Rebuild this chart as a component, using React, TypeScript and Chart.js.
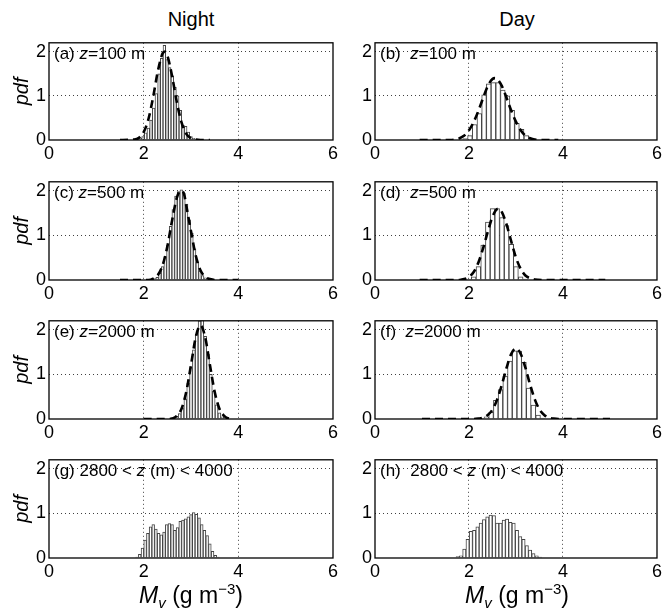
import React, { useEffect, useRef } from 'react';
import { Chart, registerables } from 'chart.js';

Chart.register(...registerables);

const FONT = '"Liberation Sans", Arial, Helvetica, sans-serif';
Chart.defaults.font.family = FONT;
Chart.defaults.color = '#000';

// ---- axis ranges / ticks ----
const X_MIN = 0;
const X_MAX = 6;
const X_STEP = 2;
const Y_MIN = 0;
const Y_MAX = 2.2;
const Y_STEP = 1;

// ---- column titles / axis labels ----
const colTitles = ['Night', 'Day'];
const yTitle = 'pdf';

// ---- histograms: centre of first bin, bin width, pdf heights ----
const startA = 1.873, widthA = 0.0564;
const pdfA = [0.02, 0.04, 0.08, 0.16, 0.27, 0.45, 0.72, 1.05, 1.5, 1.85, 2.14, 1.82, 1.64, 1.45, 1.19, 1.0, 0.67, 0.33, 0.31, 0.18, 0.08, 0.04, 0.02];

const startB = 1.92, widthB = 0.1;
const pdfB = [0.03, 0.1, 0.35, 0.6, 1.02, 1.27, 1.3, 1.3, 1.13, 1.0, 0.67, 0.38, 0.24, 0.1, 0.04];

const startC = 2.23, widthC = 0.0564;
const pdfC = [0.03, 0.06, 0.15, 0.3, 0.52, 0.78, 1.2, 1.58, 1.88, 1.98, 2.02, 1.95, 1.7, 1.35, 1.05, 0.7, 0.4, 0.2, 0.1, 0.05];

const startD = 2.0, widthD = 0.1;
const pdfD = [0.02, 0.07, 0.3, 0.78, 1.3, 1.6, 1.6, 1.4, 1.22, 0.8, 0.3, 0.07, 0.02];

const startE = 2.58, widthE = 0.06;
const pdfE = [0.02, 0.03, 0.06, 0.12, 0.25, 0.45, 0.8, 1.15, 1.55, 1.9, 2.2, 2.25, 1.85, 1.45, 1.0, 0.62, 0.32, 0.14, 0.05, 0.02];

const startF = 2.27, widthF = 0.1;
const pdfF = [0.01, 0.05, 0.15, 0.42, 0.66, 0.96, 1.3, 1.53, 1.52, 1.27, 0.69, 0.31, 0.09, 0.02];

const startG = 1.86, widthG = 0.057;
const pdfG = [0.02, 0.08, 0.22, 0.4, 0.55, 0.7, 0.75, 0.65, 0.55, 0.52, 0.58, 0.75, 0.77, 0.75, 0.62, 0.68, 0.82, 0.85, 0.88, 0.92, 0.97, 1.02, 0.98, 0.9, 0.75, 0.62, 0.5, 0.32, 0.15, 0.06, 0.02];

const startH = 1.76, widthH = 0.07;
const pdfH = [0.03, 0.05, 0.2, 0.42, 0.6, 0.62, 0.7, 0.78, 0.86, 0.92, 0.96, 0.95, 0.78, 0.78, 0.85, 0.87, 0.8, 0.78, 0.62, 0.48, 0.42, 0.28, 0.18, 0.1, 0.05, 0.02];

// ---- fitted curves (x, pdf) ----
const fitA = [[1.5, 0], [1.8, 0.01], [1.9, 0.05], [2.0, 0.18], [2.1, 0.47], [2.2, 0.97], [2.3, 1.56], [2.4, 1.96], [2.45, 2.0], [2.5, 1.91], [2.6, 1.45], [2.7, 0.86], [2.8, 0.4], [2.9, 0.14], [3.0, 0.04], [3.1, 0.01], [3.2, 0], [3.4, 0]];
const fitB = [[0.95, 0], [1.6, 0], [1.8, 0.04], [1.9, 0.1], [2.0, 0.22], [2.1, 0.41], [2.2, 0.66], [2.3, 0.95], [2.4, 1.22], [2.5, 1.38], [2.55, 1.4], [2.6, 1.38], [2.7, 1.22], [2.8, 0.95], [2.9, 0.66], [3.0, 0.41], [3.1, 0.22], [3.2, 0.1], [3.3, 0.04], [3.4, 0.01], [3.6, 0], [3.9, 0]];
const fitC = [[1.5, 0], [2.1, 0], [2.2, 0.03], [2.3, 0.11], [2.4, 0.33], [2.5, 0.75], [2.6, 1.33], [2.7, 1.84], [2.78, 2.0], [2.85, 1.94], [2.9, 1.67], [3.0, 1.09], [3.1, 0.55], [3.2, 0.22], [3.3, 0.07], [3.4, 0.02], [3.5, 0], [4.0, 0]];
const fitD = [[0.95, 0], [1.8, 0], [1.9, 0.02], [2.0, 0.07], [2.1, 0.18], [2.2, 0.39], [2.3, 0.71], [2.4, 1.08], [2.5, 1.42], [2.62, 1.6], [2.7, 1.52], [2.8, 1.24], [2.9, 0.86], [3.0, 0.5], [3.1, 0.25], [3.2, 0.1], [3.3, 0.04], [3.4, 0.01], [3.6, 0], [4.9, 0]];
const fitE = [[2.0, 0], [2.55, 0], [2.6, 0.01], [2.7, 0.07], [2.8, 0.23], [2.9, 0.61], [3.0, 1.21], [3.1, 1.83], [3.2, 2.1], [3.3, 1.83], [3.4, 1.21], [3.5, 0.61], [3.6, 0.23], [3.7, 0.07], [3.8, 0.01], [3.9, 0]];
const fitF = [[1.0, 0], [2.1, 0], [2.2, 0.01], [2.3, 0.03], [2.4, 0.09], [2.5, 0.21], [2.6, 0.44], [2.7, 0.77], [2.8, 1.15], [2.9, 1.46], [3.0, 1.58], [3.1, 1.46], [3.2, 1.15], [3.3, 0.77], [3.4, 0.44], [3.5, 0.21], [3.6, 0.09], [3.7, 0.03], [3.8, 0.01], [3.9, 0], [5.0, 0]];

// ---- panel labels (text, italic?) ----
type Part = { t: string; i?: boolean };
const labelA: Part[] = [{ t: '(a) ' }, { t: 'z', i: true }, { t: '=100 m' }];
const labelB: Part[] = [{ t: '(b)  ' }, { t: 'z', i: true }, { t: '=100 m' }];
const labelC: Part[] = [{ t: '(c) ' }, { t: 'z', i: true }, { t: '=500 m' }];
const labelD: Part[] = [{ t: '(d)  ' }, { t: 'z', i: true }, { t: '=500 m' }];
const labelE: Part[] = [{ t: '(e) ' }, { t: 'z', i: true }, { t: '=2000 m' }];
const labelF: Part[] = [{ t: '(f)  ' }, { t: 'z', i: true }, { t: '=2000 m' }];
const labelG: Part[] = [{ t: '(g) 2800 < ' }, { t: 'z', i: true }, { t: ' (m) < 4000' }];
const labelH: Part[] = [{ t: '(h)  2800 < ' }, { t: 'z', i: true }, { t: ' (m) < 4000' }];

// ---- layout (page pixels) ----
const COL_L = [49, 375];
const COL_R = [333, 660];
const ROW_T = [41, 180, 319, 458];
const ROW_B = [140, 280, 419, 558];
const Y_AXIS_W = 49;
const X_AXIS_H = 28;
const PAD_TOP = 12;

interface Spec {
  id: string; col: number; row: number;
  start: number; width: number; pdf: number[];
  fit?: number[][]; label: Part[];
}

const PANELS: Spec[] = [
  { id: 'a', col: 0, row: 0, start: startA, width: widthA, pdf: pdfA, fit: fitA, label: labelA },
  { id: 'b', col: 1, row: 0, start: startB, width: widthB, pdf: pdfB, fit: fitB, label: labelB },
  { id: 'c', col: 0, row: 1, start: startC, width: widthC, pdf: pdfC, fit: fitC, label: labelC },
  { id: 'd', col: 1, row: 1, start: startD, width: widthD, pdf: pdfD, fit: fitD, label: labelD },
  { id: 'e', col: 0, row: 2, start: startE, width: widthE, pdf: pdfE, fit: fitE, label: labelE },
  { id: 'f', col: 1, row: 2, start: startF, width: widthF, pdf: pdfF, fit: fitF, label: labelF },
  { id: 'g', col: 0, row: 3, start: startG, width: widthG, pdf: pdfG, label: labelG },
  { id: 'h', col: 1, row: 3, start: startH, width: widthH, pdf: pdfH, label: labelH },
];

function decorPlugin(parts: Part[]) {
  return {
    id: 'decor',
    afterDraw(chart: any) {
      const { ctx, chartArea: ca } = chart;
      ctx.save();
      ctx.strokeStyle = '#000';
      ctx.lineWidth = 1.3;
      ctx.setLineDash([]);
      ctx.strokeRect(ca.left, ca.top, ca.right - ca.left, ca.bottom - ca.top);
      let x = ca.left + 5;
      const y = ca.top + 16;
      ctx.fillStyle = '#000';
      ctx.textBaseline = 'alphabetic';
      ctx.textAlign = 'left';
      for (const p of parts) {
        ctx.font = `${p.i ? 'italic ' : ''}17px ${FONT}`;
        ctx.fillText(p.t, x, y);
        x += ctx.measureText(p.t).width;
      }
      ctx.restore();
    },
  };
}

function Panel({ spec }: { spec: Spec }) {
  const ref = useRef<HTMLCanvasElement>(null);
  const L = COL_L[spec.col], R = COL_R[spec.col];
  const T = ROW_T[spec.row], B = ROW_B[spec.row];
  const padRight = spec.col === 0 ? 12 : 665 - R;
  const left = L - Y_AXIS_W;
  const top = T - PAD_TOP;
  const w = R - L + Y_AXIS_W + padRight;
  const h = B - T + PAD_TOP + X_AXIS_H;

  useEffect(() => {
    const bars = spec.pdf.map((v, i) => ({ x: spec.start + i * spec.width, y: v }));
    const datasets: any[] = [];
    if (spec.fit) {
      datasets.push({
        type: 'line',
        data: spec.fit.map(([x, y]) => ({ x, y })),
        borderColor: '#000',
        borderWidth: 2.6,
        borderDash: [8, 5],
        pointRadius: 0,
        fill: false,
        cubicInterpolationMode: 'monotone',
        order: 0,
      });
    }
    datasets.push({
      type: 'bar',
      data: bars,
      backgroundColor: '#ffffff',
      borderColor: '#444444',
      borderWidth: 1,
      borderSkipped: 'bottom',
      barPercentage: 1,
      categoryPercentage: 1,
      order: 1,
    });
    const gridColor = (c: any) => {
      const v = c.tick ? c.tick.value : null;
      if (v === null) return 'rgba(0,0,0,0)';
      if (c.scale.axis === 'x' && (v === X_MIN || v === X_MAX)) return 'rgba(0,0,0,0)';
      if (c.scale.axis === 'y' && v === Y_MIN) return 'rgba(0,0,0,0)';
      return 'rgba(0,0,0,0.75)';
    };
    const chart = new Chart(ref.current as HTMLCanvasElement, {
      type: 'bar',
      data: { datasets },
      options: {
        animation: false,
        responsive: false,
        maintainAspectRatio: false,
        events: [],
        layout: { autoPadding: false, padding: { left: 0, top: PAD_TOP, right: padRight, bottom: 0 } },
        plugins: { legend: { display: false }, tooltip: { enabled: false } },
        scales: {
          x: {
            type: 'linear',
            min: X_MIN,
            max: X_MAX,
            offset: false,
            ticks: { stepSize: X_STEP, padding: 3, color: '#000', font: { size: 18, family: FONT }, maxRotation: 0, autoSkip: false },
            grid: { offset: false, drawTicks: false, color: gridColor, lineWidth: 1 },
            border: { display: false, dash: [1, 3] },
            afterFit: (s: any) => { s.height = X_AXIS_H; },
          },
          y: {
            type: 'linear',
            min: Y_MIN,
            max: Y_MAX,
            ticks: { stepSize: Y_STEP, includeBounds: false, padding: 3, color: '#000', font: { size: 18, family: FONT } },
            grid: { drawTicks: false, color: gridColor, lineWidth: 1 },
            border: { display: false, dash: [1, 3] },
            title: {
              display: spec.col === 0,
              text: yTitle,
              color: '#000',
              font: { size: 20, style: 'italic', family: FONT },
              padding: { top: 10, bottom: 0 },
            },
            afterFit: (s: any) => { s.width = Y_AXIS_W; },
          },
        },
      } as any,
      plugins: [decorPlugin(spec.label)],
    } as any);
    return () => chart.destroy();
  }, []);

  return (
    <canvas
      ref={ref}
      width={w}
      height={h}
      style={{ position: 'absolute', left, top, width: w, height: h }}
    />
  );
}

export default function App() {
  const centres = [191, 517];
  return (
    <div style={{ position: 'absolute', left: 0, top: 0, width: 665, height: 613, background: '#fff', overflow: 'hidden', fontFamily: FONT, color: '#000' }}>
      {colTitles.map((t, i) => (
        <div key={t} style={{ position: 'absolute', left: centres[i] - 100, top: 8, width: 200, textAlign: 'center', fontSize: 20, lineHeight: '23px' }}>{t}</div>
      ))}
      {PANELS.map((p) => <Panel key={p.id} spec={p} />)}
      {centres.map((c, i) => (
        <div key={i} style={{ position: 'absolute', left: c - 100, top: 582, width: 200, textAlign: 'center', fontSize: 23, lineHeight: '27px', whiteSpace: 'nowrap' }}>
          <i>M</i>
          <span style={{ fontSize: 15, position: 'relative', top: 5 }}><i>v</i></span>
          <span> (g m</span>
          <span style={{ fontSize: 15, position: 'relative', top: -9 }}>−3</span>
          <span>)</span>
        </div>
      ))}
    </div>
  );
}
